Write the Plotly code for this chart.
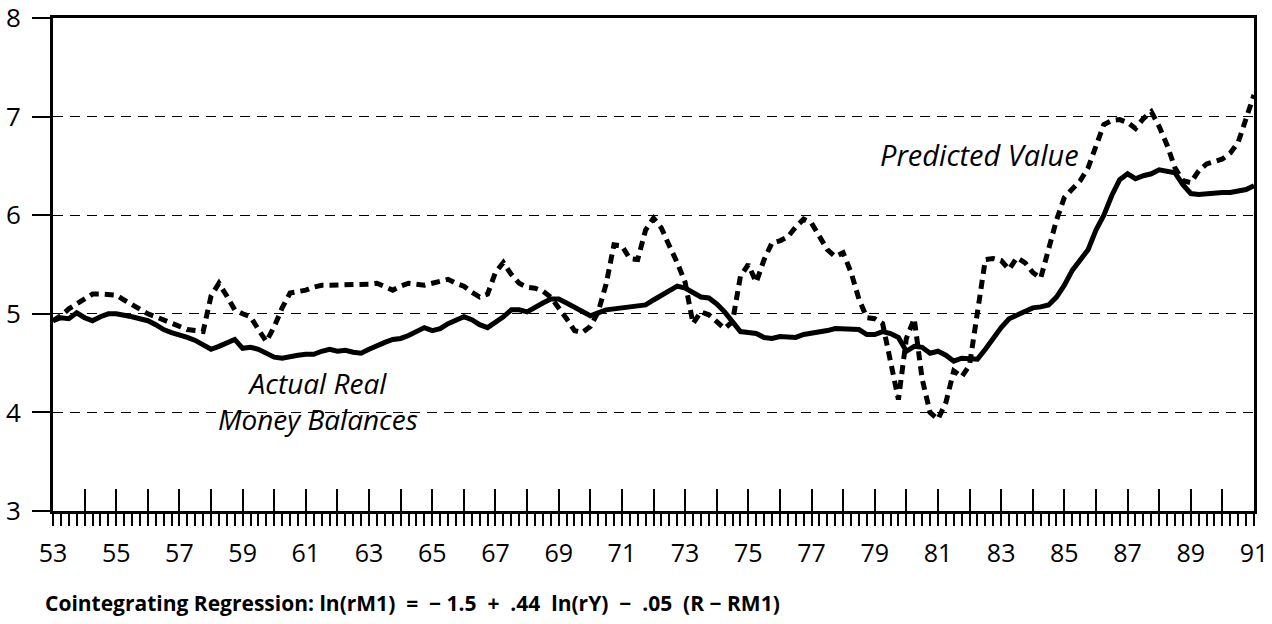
import numpy as np
import plotly.graph_objects as go

# Quarterly observations, 1953Q1 .. 1991Q1
start_year = 53
quarters_per_year = 4

actual = [
    4.93, 4.96, 4.95, 5.01,   # 53
    4.96, 4.93, 4.97, 5.00,   # 54
    5.00, 4.99, 4.97, 4.95,   # 55
    4.93, 4.89, 4.84, 4.81,   # 56
    4.79, 4.76, 4.73, 4.69,   # 57
    4.64, 4.67, 4.71, 4.74,   # 58
    4.65, 4.66, 4.64, 4.60,   # 59
    4.56, 4.55, 4.57, 4.58,   # 60
    4.59, 4.59, 4.62, 4.64,   # 61
    4.62, 4.63, 4.61, 4.60,   # 62
    4.64, 4.68, 4.71, 4.74,   # 63
    4.75, 4.78, 4.82, 4.86,   # 64
    4.83, 4.85, 4.90, 4.94,   # 65
    4.97, 4.94, 4.89, 4.86,   # 66
    4.91, 4.97, 5.04, 5.04,   # 67
    5.02, 5.07, 5.11, 5.15,   # 68
    5.15, 5.11, 5.07, 5.02,   # 69
    4.98, 5.01, 5.04, 5.05,   # 70
    5.06, 5.08, 5.08, 5.09,   # 71
    5.14, 5.19, 5.24, 5.28,   # 72
    5.26, 5.21, 5.17, 5.16,   # 73
    5.10, 5.02, 4.92, 4.82,   # 74
    4.81, 4.80, 4.76, 4.75,   # 75
    4.77, 4.77, 4.76, 4.79,   # 76
    4.80, 4.81, 4.83, 4.85,   # 77
    4.85, 4.84, 4.84, 4.79,   # 78
    4.79, 4.82, 4.80, 4.76,   # 79
    4.62, 4.67, 4.66, 4.60,   # 80
    4.62, 4.58, 4.52, 4.55,   # 81
    4.55, 4.54, 4.64, 4.76,   # 82
    4.86, 4.95, 4.99, 5.03,   # 83
    5.06, 5.07, 5.09, 5.17,   # 84
    5.29, 5.44, 5.55, 5.65,   # 85
    5.85, 6.00, 6.20, 6.36,   # 86
    6.42, 6.37, 6.40, 6.42,   # 87
    6.46, 6.45, 6.43, 6.31,   # 88
    6.22, 6.21, 6.22, 6.22,   # 89
    6.23, 6.23, 6.24, 6.26,   # 90
    6.30,                     # 91
]

predicted = [
    4.93, 4.98, 5.05, 5.10,   # 53
    5.16, 5.20, 5.20, 5.20,   # 54
    5.19, 5.14, 5.09, 5.04,   # 55
    5.00, 4.97, 4.94, 4.90,   # 56
    4.87, 4.84, 4.83, 4.82,   # 57
    5.18, 5.31, 5.18, 5.04,   # 58
    5.00, 4.97, 4.84, 4.72,   # 59
    4.87, 5.06, 5.21, 5.22,   # 60
    5.24, 5.27, 5.29, 5.29,   # 61
    5.29, 5.29, 5.29, 5.30,   # 62
    5.30, 5.31, 5.27, 5.24,   # 63
    5.28, 5.31, 5.30, 5.29,   # 64
    5.31, 5.33, 5.35, 5.31,   # 65
    5.28, 5.22, 5.17, 5.20,   # 66
    5.42, 5.52, 5.40, 5.31,   # 67
    5.27, 5.26, 5.23, 5.17,   # 68
    5.07, 4.95, 4.83, 4.81,   # 69
    4.87, 5.02, 5.30, 5.70,   # 70
    5.69, 5.56, 5.55, 5.85,   # 71
    5.97, 5.87, 5.69, 5.52,   # 72
    5.32, 4.90, 5.02, 4.99,   # 73
    4.92, 4.85, 4.92, 5.38,   # 74
    5.50, 5.32, 5.55, 5.72,   # 75
    5.74, 5.78, 5.88, 5.96,   # 76
    5.92, 5.78, 5.65, 5.58,   # 77
    5.62, 5.42, 5.15, 4.96,   # 78
    4.95, 4.90, 4.51, 4.13,   # 79
    4.75, 4.95, 4.34, 4.00,   # 80
    3.93, 4.10, 4.42, 4.36,   # 81
    4.48, 5.05, 5.55, 5.56,   # 82
    5.54, 5.45, 5.57, 5.52,   # 83
    5.42, 5.36, 5.65, 5.95,   # 84
    6.18, 6.27, 6.35, 6.48,   # 85
    6.72, 6.92, 6.96, 6.97,   # 86
    6.94, 6.88, 6.98, 7.05,   # 87
    6.90, 6.71, 6.48, 6.35,   # 88
    6.33, 6.45, 6.52, 6.54,   # 89
    6.57, 6.63, 6.74, 6.98,   # 90
    7.22,                     # 91
]

year_ticks = list(range(53, 92))
year_labels = [str(y) if y % 2 == 1 else "" for y in year_ticks]
y_ticks = [3, 4, 5, 6, 7, 8]

label_predicted = "Predicted Value"
label_actual = "Actual Real<br>Money Balances"
caption = ("Cointegrating Regression: ln(rM1)  =  \u2212 1.5  +  .44  ln(rY)  \u2212  .05  (R \u2212 RM1)")

t = start_year + np.arange(len(actual)) / quarters_per_year

FONT = "Open Sans"
fig = go.Figure()
fig.add_trace(go.Scatter(x=t, y=predicted, mode="lines", xaxis="x2",
                         line=dict(color="black", width=5, dash="9px,6px"),
                         showlegend=False, hoverinfo="skip"))
fig.add_trace(go.Scatter(x=t, y=actual, mode="lines",
                         line=dict(color="black", width=5),
                         showlegend=False, hoverinfo="skip"))

fig.update_layout(
    width=1272, height=624,
    margin=dict(l=53, r=18, t=18, b=113),
    paper_bgcolor="white", plot_bgcolor="white",
    font=dict(family=FONT, color="black", size=25),
    xaxis=dict(range=[53, 91], tickmode="array", tickvals=year_ticks,
               ticktext=year_labels, ticks="inside", ticklen=22, tickwidth=2,
               tickcolor="black", showgrid=False, zeroline=False,
               showline=True, linecolor="black", linewidth=2.5, mirror=True,
               ticklabelstandoff=18, tickfont=dict(size=25), automargin=False,
               ticklabeloverflow="allow"),
    xaxis2=dict(range=[53, 91], overlaying="x", anchor="y", side="bottom",
                tickmode="array",
                tickvals=list(np.arange(53, 91.001, 0.25)),
                ticks="outside", ticklen=14, tickwidth=2, tickcolor="black",
                showticklabels=False, showgrid=False, zeroline=False,
                showline=False, automargin=False),
    yaxis=dict(range=[3, 8], tickmode="array", tickvals=y_ticks,
               ticks="outside", ticklen=18, tickwidth=2, tickcolor="black",
               showgrid=True, gridcolor="black", gridwidth=1.2,
               griddash="10px,7px", zeroline=False,
               showline=True, linecolor="black", linewidth=3, mirror=True,
               ticklabelstandoff=6, tickfont=dict(size=26), automargin=False,
               ticklabeloverflow="allow"),
    annotations=[
        dict(x=82.3, y=6.62, xref="x", yref="y", text=label_predicted,
             showarrow=False, font=dict(size=29, style="italic", family=FONT)),
        dict(x=61.4, y=4.115, xref="x", yref="y", text=label_actual,
             showarrow=False, align="center",
             font=dict(size=28, style="italic", family=FONT)),
        dict(x=-0.008, y=-0.1875, xref="paper", yref="paper", xanchor="left",
             yanchor="middle", text="<b>" + caption + "</b>", showarrow=False,
             font=dict(size=21, family=FONT)),
    ],
)

fig.write_html("out.html", config={"displayModeBar": False},
               post_script="document.body.style.margin='0px';")
